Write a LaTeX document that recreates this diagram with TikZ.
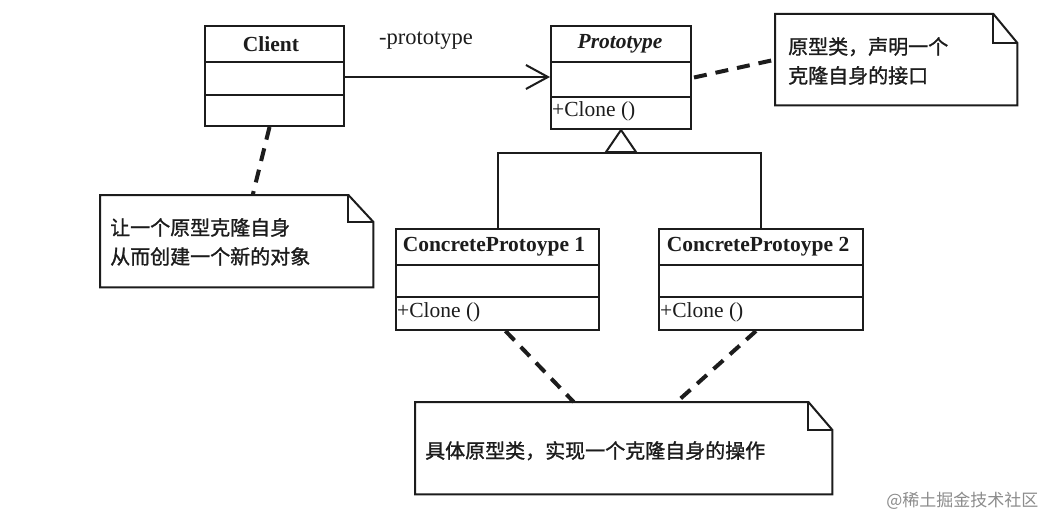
\documentclass[tikz,border=0pt]{standalone}
\usepackage{fontspec}
\setmainfont{Liberation Serif}
\newfontfamily\cjk[FakeBold=1.2]{Noto Sans CJK SC}
\newfontfamily\cjkplain{Noto Sans CJK SC}
\usetikzlibrary{arrows.meta}
\definecolor{ink}{HTML}{1C1C1C}
\tikzset{
  box/.style={draw=ink, line width=2pt, rectangle, inner sep=0pt, anchor=north west},
  cname/.style={font=\fontsize{21.5}{24}\selectfont\bfseries, text=ink},
  member/.style={font=\fontsize{21.5}{24}\selectfont, text=ink, anchor=west, inner sep=0pt},
  notearea/.style={rectangle, inner sep=0pt, anchor=north west},
  notetext/.style={font=\cjk\fontsize{20}{29}\selectfont, text=ink, anchor=north west, align=left, inner sep=0pt},
  noteline/.style={draw=ink, line width=2pt, line join=miter},
  anchorline/.style={draw=ink, line width=4pt, dash pattern=on 13pt off 9pt},
  rel/.style={draw=ink, line width=2pt},
}
\begin{document}
\begin{tikzpicture}[x=1pt,y=-1pt]
\useasboundingbox[fill=white] (0,0) rectangle (1049,519);

% ---------- classes ----------
\node[box, minimum width=139pt, minimum height=100pt] (client) at (204,25) {};
\draw[rel] (204,62) -- (343,62);
\draw[rel] (204,95) -- (343,95);
\node[cname] (clientname) at (271,44) {Client};

\node[box, minimum width=140pt, minimum height=103pt] (proto) at (550,25) {};
\draw[rel] (550,62) -- (690,62);
\draw[rel] (550,97) -- (690,97);
\node[cname, font=\fontsize{21.5}{24}\selectfont\bfseries\itshape] (protoname) at (620,44) {Prototype};
\node[member] (protoclone) at (552,111) {+Clone ()};

\node[box, minimum width=203pt, minimum height=101pt] (cp1) at (395,228) {};
\draw[rel] (395,265) -- (598,265);
\draw[rel] (395,297) -- (598,297);
\node[cname] (cp1name) at (494,247) {ConcreteProtoype 1};
\node[member] (cp1clone) at (397,312) {+Clone ()};

\node[box, minimum width=204pt, minimum height=101pt] (cp2) at (658,228) {};
\draw[rel] (658,265) -- (862,265);
\draw[rel] (658,297) -- (862,297);
\node[cname] (cp2name) at (758,247) {ConcreteProtoype 2};
\node[member] (cp2clone) at (660,312) {+Clone ()};

% ---------- association ----------
\draw[rel, -{Straight Barb[length=22pt, width=24pt, line width=2pt]}] (client.east |- 0,77) -- (proto.west |- 0,77);
\node[font=\fontsize{22.5}{24}\selectfont, text=ink] (assoclabel) at (426,41) {-prototype};

% ---------- generalization ----------
\coordinate (junction) at (620,153);
\draw[rel] (cp1.north) |- (junction);
\draw[rel] (cp2.north) |- (junction);
\draw[rel] (junction) -- (620,150);
\draw[rel, fill=white] (proto.south) -- ++(-15,22) -- ++(30,0) -- cycle;

% ---------- notes ----------
% note 1 (top right)
\node[notearea, minimum width=242pt, minimum height=91pt] (note1) at (775,14) {};
\draw[noteline] (note1.north west) -- ([xshift=-24pt]note1.north east) -- ([yshift=-29pt]note1.north east) -- (note1.south east) -- (note1.south west) -- cycle;
\draw[noteline] ([xshift=-24pt]note1.north east) -- ([xshift=-24pt,yshift=-29pt]note1.north east) -- ([yshift=-29pt]note1.north east);
\node[notetext] (note1text) at (788,37) {原型类，声明一个\\克隆自身的接口};

% note 2 (left)
\node[notearea, minimum width=273pt, minimum height=92pt] (note2) at (100,195) {};
\draw[noteline] (note2.north west) -- ([xshift=-25pt]note2.north east) -- ([yshift=-27pt]note2.north east) -- (note2.south east) -- (note2.south west) -- cycle;
\draw[noteline] ([xshift=-25pt]note2.north east) -- ([xshift=-25pt,yshift=-27pt]note2.north east) -- ([yshift=-27pt]note2.north east);
\node[notetext] (note2text) at (110,218) {让一个原型克隆自身\\从而创建一个新的对象};

% note 3 (bottom)
\node[notearea, minimum width=417pt, minimum height=92pt] (note3) at (415,402) {};
\draw[noteline] (note3.north west) -- ([xshift=-24pt]note3.north east) -- ([yshift=-28pt]note3.north east) -- (note3.south east) -- (note3.south west) -- cycle;
\draw[noteline] ([xshift=-24pt]note3.north east) -- ([xshift=-24pt,yshift=-28pt]note3.north east) -- ([yshift=-28pt]note3.north east);
\node[notetext] (note3text) at (425,441) {具体原型类，实现一个克隆自身的操作};

% ---------- note anchors ----------
\coordinate (c1a) at ([xshift=-5pt]client.south);
\coordinate (n2a) at ([xshift=16pt]note2.north);
\draw[anchorline] (c1a) -- (n2a);
\coordinate (pa) at ([xshift=2pt]proto.east);
\draw[anchorline] (pa) -- (note1.west);
\coordinate (cp1a) at ([xshift=8pt]cp1.south);
\coordinate (n3a) at ([xshift=-50pt]note3.north);
\draw[anchorline] (cp1a) -- (n3a);
\coordinate (cp2a) at ([xshift=-5pt]cp2.south);
\coordinate (n3b) at ([xshift=53pt]note3.north);
\draw[anchorline] (cp2a) -- (n3b);

% ---------- watermark ----------
\node[font=\cjkplain\fontsize{17}{20}\selectfont, text=black!45, anchor=east] (wm) at (1042,501) {@稀土掘金技术社区};
\end{tikzpicture}
\end{document}
